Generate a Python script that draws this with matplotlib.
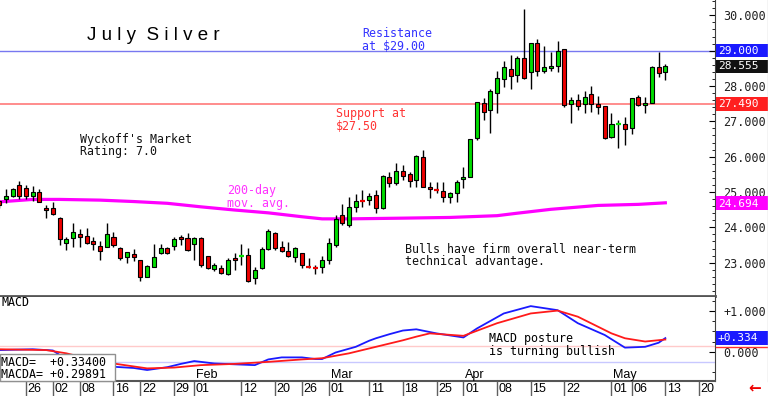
import numpy as np
import matplotlib.pyplot as plt
from matplotlib.patches import Rectangle
from matplotlib.lines import Line2D
from matplotlib.ticker import MultipleLocator

# -------------------------
#  DATA
# -------------------------
# daily candles, trading-day index 0 = Dec 19 ... 99 = May 13
opens = [24.75, 24.80, 24.90, 25.20, 25.11, 24.90, 25.01, 24.54, 24.54, 24.26,
         23.57, 23.71, 23.81, 23.76, 23.61, 23.48, 23.45, 23.74, 23.42, 23.17,
         23.24, 23.08, 22.60, 22.89, 23.27, 23.41, 23.48, 23.74, 23.71, 23.53,
         23.69, 23.19, 22.81, 22.84, 22.68, 23.14, 23.16, 23.22, 22.56, 22.84,
         23.39, 23.83, 23.45, 23.34, 23.15, 23.27, 22.92, 22.87, 22.87, 23.08,
         23.50, 24.35, 24.07, 24.58, 24.76, 24.77, 24.92, 24.54, 25.43, 25.25,
         25.59, 25.50, 25.34, 26.00, 25.15, 25.07, 25.04, 24.85, 24.98, 25.37,
         25.43, 26.52, 27.53, 27.33, 27.80, 28.20, 28.48, 28.31, 28.80, 28.39,
         29.21, 28.43, 28.50, 28.57, 29.04, 27.49, 27.60, 27.48, 27.77, 27.48,
         27.43, 26.55, 26.89, 26.92, 26.80, 27.70, 27.46, 27.53, 28.55, 28.40]
highs = [24.78, 25.08, 25.11, 25.31, 25.20, 25.18, 25.09, 24.63, 24.73, 24.30,
         23.72, 24.11, 23.95, 23.97, 23.72, 23.62, 24.13, 23.88, 23.45, 23.31,
         23.40, 23.08, 22.93, 23.52, 23.53, 23.45, 23.72, 23.78, 23.83, 23.74,
         23.72, 23.19, 22.98, 22.93, 23.12, 23.27, 23.52, 23.41, 22.89, 23.45,
         23.95, 23.88, 23.62, 23.59, 23.45, 23.28, 23.12, 22.93, 23.19, 23.69,
         24.35, 24.65, 24.87, 24.94, 25.06, 24.96, 25.06, 25.48, 25.57, 25.81,
         25.76, 25.57, 26.05, 26.19, 25.29, 25.28, 25.29, 25.01, 25.34, 25.72,
         26.50, 27.56, 27.66, 27.92, 28.43, 28.71, 28.88, 28.85, 30.17, 29.23,
         29.33, 29.14, 28.97, 29.27, 29.04, 27.68, 27.77, 27.87, 28.00, 27.72,
         27.44, 27.23, 27.04, 27.11, 27.67, 27.75, 27.70, 28.56, 28.97, 28.61]
lows = [24.55, 24.68, 24.87, 24.80, 24.80, 24.75, 24.71, 24.26, 24.36, 23.50,
        23.36, 23.45, 23.45, 23.52, 23.36, 23.08, 23.44, 23.45, 23.08, 22.98,
        23.06, 22.48, 22.59, 22.88, 23.25, 23.24, 23.36, 23.50, 23.34, 23.08,
        22.89, 22.81, 22.77, 22.68, 22.65, 22.79, 22.93, 22.46, 22.40, 22.83,
        23.36, 23.36, 23.31, 23.17, 23.03, 22.84, 22.84, 22.68, 22.70, 22.96,
        23.45, 24.07, 24.02, 24.44, 24.58, 24.63, 24.41, 24.51, 25.15, 25.20,
        25.34, 25.15, 25.13, 25.13, 24.82, 24.96, 24.73, 24.68, 24.73, 25.11,
        25.42, 26.47, 27.04, 26.66, 27.24, 27.98, 27.91, 28.12, 28.20, 27.91,
        28.28, 28.38, 28.43, 28.40, 27.41, 26.96, 27.32, 27.24, 27.27, 27.20,
        26.49, 26.52, 26.24, 26.33, 26.64, 27.43, 27.23, 27.51, 28.25, 28.16]
closes = [24.63, 24.90, 25.09, 24.90, 24.90, 25.01, 24.73, 24.49, 24.38, 23.66,
          23.66, 23.87, 23.74, 23.55, 23.53, 23.33, 23.80, 23.50, 23.12, 23.29,
          23.15, 22.60, 22.91, 23.17, 23.42, 23.27, 23.66, 23.66, 23.36, 23.71,
          22.93, 22.84, 22.93, 22.70, 23.08, 23.08, 23.18, 22.49, 22.79, 23.39,
          23.91, 23.41, 23.34, 23.19, 23.41, 22.93, 22.89, 22.85, 23.08, 23.55,
          24.23, 24.11, 24.58, 24.75, 24.74, 24.90, 24.54, 25.45, 25.25, 25.60,
          25.45, 25.32, 26.02, 25.15, 25.09, 25.05, 24.85, 24.98, 25.29, 25.43,
          26.49, 27.55, 27.27, 27.85, 28.22, 28.53, 28.28, 28.80, 28.22, 29.21,
          28.43, 28.55, 28.57, 29.00, 27.46, 27.60, 27.43, 27.70, 27.49, 27.41,
          26.54, 26.92, 26.91, 26.77, 27.67, 27.46, 27.53, 28.55, 28.38, 28.555]

# 200-day moving average (index, value)
ma_idx = [0, 5, 9, 15, 20, 25, 30, 35, 40, 45, 48, 52, 60, 67, 74, 77, 82, 89, 95, 99]
ma_val = [24.72, 24.79, 24.79, 24.77, 24.73, 24.68, 24.58, 24.49, 24.41, 24.30,
          24.24, 24.24, 24.26, 24.28, 24.33, 24.40, 24.51, 24.62, 24.65, 24.694]

# MACD panel
macd_idx = [0, 5, 8, 9, 17, 20, 22, 25, 27, 29, 32, 35, 38, 40, 42, 45, 47, 48, 50,
            53, 55, 56, 58, 60, 62, 65, 69, 71, 75, 79, 83, 86, 90, 93, 96, 98, 99]
macd_val = [0.04, 0.06, 0.03, -0.08, -0.37, -0.40, -0.45, -0.38, -0.30, -0.23, -0.29,
            -0.31, -0.33, -0.19, -0.14, -0.14, -0.18, -0.18, -0.02, 0.12, 0.27, 0.33,
            0.43, 0.52, 0.55, 0.45, 0.35, 0.57, 0.94, 1.12, 1.02, 0.70, 0.41, 0.10,
            0.12, 0.22, 0.334]
sig_idx = [0, 7, 10, 13, 17, 22, 26, 30, 35, 40, 45, 48, 52, 55, 57, 60, 62, 64,
           69, 74, 79, 83, 86, 91, 93, 96, 99]
sig_val = [0.06, 0.04, -0.04, -0.16, -0.29, -0.41, -0.39, -0.33, -0.30, -0.25, -0.19,
           -0.16, -0.04, 0.08, 0.16, 0.28, 0.37, 0.45, 0.39, 0.70, 0.94, 1.01, 0.86,
           0.45, 0.33, 0.25, 0.299]

resistance = 29.00
support = 27.49
price_ticks = [23, 24, 25, 26, 27, 28, 29, 30]
macd_ticks = [0.0, 1.0]
macd_tick_labels = ['0.000', '+1.000']

date_idx = [4, 8, 12, 17, 21, 26, 29, 36, 41, 45, 49, 55, 60, 65, 69, 74, 79, 84, 91, 94, 99, 104]
date_labels = ['26', '02', '08', '16', '22', '29', '01', '12', '20', '26', '01',
               '11', '18', '25', '01', '08', '15', '22', '01', '06', '13', '20']
month_idx = [29, 49, 69, 91]
month_labels = ['Feb', 'Mar', 'Apr', 'May']

# -------------------------
#  STYLE / LAYOUT
# -------------------------
W, H = 768, 396
MONO = 'DejaVu Sans Mono'
SANS = 'Liberation Sans'
GREEN = '#00dd00'
RED = '#ee0000'
XLIM = (0.137, 106.38)


def fbox(x0, y0, x1, y1):
    return [x0 / W, 1 - y1 / H, (x1 - x0) / W, (y1 - y0) / H]


def fx(px):
    return px / W


def fy(py):
    return 1 - py / H


fig = plt.figure(figsize=(W / 100, H / 100), dpi=100)
ax = fig.add_axes(fbox(0, 0, 715, 296))
axm = fig.add_axes(fbox(0, 297, 715, 381))
axd = fig.add_axes(fbox(0, 381, 715, 396))

# -------------------------
#  PRICE PANEL
# -------------------------
o, h, l, c = map(np.array, (opens, highs, lows, closes))
idx = np.arange(len(c))
up = c >= o
doji = np.abs(c - o) < 0.035
cols = np.where(up, GREEN, RED)

ax.vlines(idx, l, h, color='black', lw=1, zorder=3)
b = ~doji
ax.bar(idx[b], np.abs(c - o)[b], bottom=np.minimum(o, c)[b], width=0.6,
       color=cols[b], edgecolor='black', linewidth=0.8, zorder=4)
ax.hlines(c[doji], idx[doji] - 0.35, idx[doji] + 0.35, colors=cols[doji], lw=1.6, zorder=4)

ax.plot(ma_idx, ma_val, color='#ff00ff', lw=2.3, zorder=2)
ax.axhline(resistance, color='#7878f0', lw=1, zorder=1)
ax.axhline(support, color='#ff8c8c', lw=1.4, zorder=1)

ax.set_xlim(*XLIM)
ax.set_ylim(22.057, 30.433)
ax.set_xticks([])
ax.yaxis.tick_right()
ax.set_yticks(price_ticks)
# the 29 label sits under the resistance value box
ax.yaxis.set_major_formatter(lambda v, p: '' if abs(v - resistance) < 1e-6 else f'{v:.3f}')
ax.yaxis.set_minor_locator(MultipleLocator(0.2))
ax.tick_params(axis='y', which='major', direction='in', length=4, pad=6,
               labelsize=8.5, labelcolor='#202020', labelfontfamily=MONO)
ax.tick_params(axis='y', which='minor', direction='in', length=2)
for s in ('left', 'top'):
    ax.spines[s].set_visible(False)
ax.spines['right'].set_color('#404040')
ax.spines['bottom'].set_color('#555555')
ax.spines['bottom'].set_linewidth(2)

# -------------------------
#  MACD PANEL
# -------------------------
axm.axhline(0.15, color='#ffcaca', lw=1)
axm.axhline(-0.26, color='#c8c8ff', lw=1)
axm.plot(macd_idx, macd_val, color='#1a1aff', lw=1.3)
axm.plot(sig_idx, sig_val, color='#ff1a1a', lw=1.3)
axm.set_xlim(*XLIM)
axm.set_ylim(-0.72, 1.344)
axm.set_xticks([])
axm.yaxis.tick_right()
axm.set_yticks(macd_ticks)
axm.set_yticklabels(macd_tick_labels)
axm.yaxis.set_minor_locator(MultipleLocator(0.25))
axm.tick_params(axis='y', which='major', direction='in', length=4, pad=6,
                labelsize=8.5, labelcolor='#202020', labelfontfamily=MONO)
axm.tick_params(axis='y', which='minor', direction='in', length=2)
for s in ('left', 'top'):
    axm.spines[s].set_visible(False)
axm.spines['right'].set_color('#404040')
axm.spines['bottom'].set_color('#555555')
axm.spines['bottom'].set_linewidth(1.5)

axm.text(2 / 715, 1 - 6 / 84, 'MACD', transform=axm.transAxes, va='center',
         ha='left', fontsize=8.4, family=MONO)
for i, m in zip(month_idx, month_labels):
    axm.text(i + 0.25, 6 / 84, m, transform=axm.get_xaxis_transform(),
             va='center', ha='left', fontsize=9, family=SANS)
axm.text(489 / 715, 1 - 35 / 84, 'MACD posture\nis turning bullish',
         transform=axm.transAxes, va='top', ha='left', fontsize=8.4,
         family=MONO, linespacing=0.95)

# -------------------------
#  DATE STRIP
# -------------------------
axd.set_xlim(*XLIM)
axd.set_ylim(0, 1)
axd.axis('off')
axd.vlines(date_idx, 0, 1, color='#606060', lw=1)
for i, d in zip(date_idx, date_labels):
    axd.text(i + 0.25, 0.45, d, va='center', ha='left', fontsize=9,
             family=SANS, clip_on=False)


# -------------------------
#  RIGHT-HAND VALUE BOXES
# -------------------------
def value_box(axis, v, txt, fc, half, dy=0.0):
    axis.add_patch(Rectangle((1.0015, v - half), 52 / 715, 2 * half,
                             transform=axis.get_yaxis_transform(), fc=fc,
                             ec='none', clip_on=False, zorder=10))
    axis.text(1.004, v + dy, txt, transform=axis.get_yaxis_transform(), ha='left',
              va='center', color='white', fontsize=8.0, family=MONO,
              zorder=11, clip_on=False)


hp = 6.7 / 35.34
value_box(ax, resistance, f'{resistance:.3f}', '#1a1aff', hp)
value_box(ax, closes[-1], f'{closes[-1]:.3f}', '#111111', hp)
value_box(ax, support, f'{support:.3f}', '#ff2020', hp)
value_box(ax, ma_val[-1], f'{ma_val[-1]:.3f}', '#ff00ff', hp, dy=-1 / 35.34)
value_box(axm, macd_val[-1], f'+{macd_val[-1]:.3f}', '#1a1aff', 6.7 / 40.7)
fig.add_artist(Line2D([fx(716), fx(768)], [fy(346.5)] * 2, color='#ff3030', lw=1))

# -------------------------
#  ANNOTATIONS
# -------------------------
fig.text(fx(87), fy(40), 'J u l y  S i l v e r', fontsize=13.5, family=SANS,
         va='baseline', ha='left')
note = dict(fontsize=8.4, family=MONO, va='top', ha='left', linespacing=0.95)
fig.text(fx(362), fy(27), 'Resistance\nat $29.00', color='#3333ff', **note)
fig.text(fx(336), fy(107), 'Support at\n$27.50', color='#ff3333', **note)
fig.text(fx(80), fy(133), "Wyckoff's Market\nRating: 7.0", color='#111111', **note)
fig.text(fx(227), fy(184), '200-day\nmov. avg.', color='#ff33ff', **note)
fig.text(fx(405), fy(243), 'Bulls have firm overall near-term\ntechnical advantage.',
         color='#111111', **note)

# MACD readout box
fig.add_artist(Rectangle((0, fy(381)), fx(115), 27 / H, transform=fig.transFigure,
                         fc='white', ec='#909090', lw=1, zorder=5))
fig.text(fx(1), fy(362), 'MACD=  +0.33400', fontsize=8.4, family=MONO,
         va='center', ha='left', zorder=6)
fig.text(fx(1), fy(374), 'MACDA= +0.29891', fontsize=8.4, family=MONO,
         va='center', ha='left', zorder=6)

fig.text(fx(748), fy(388), '\u2190', color='#ee0000', fontsize=11,
         fontweight='bold', va='center', ha='left')
fig.add_artist(Line2D([fx(767.5)] * 2, [fy(0), fy(381)], color='#c8c8c8', lw=1))

fig.savefig('out.png', dpi=100)
